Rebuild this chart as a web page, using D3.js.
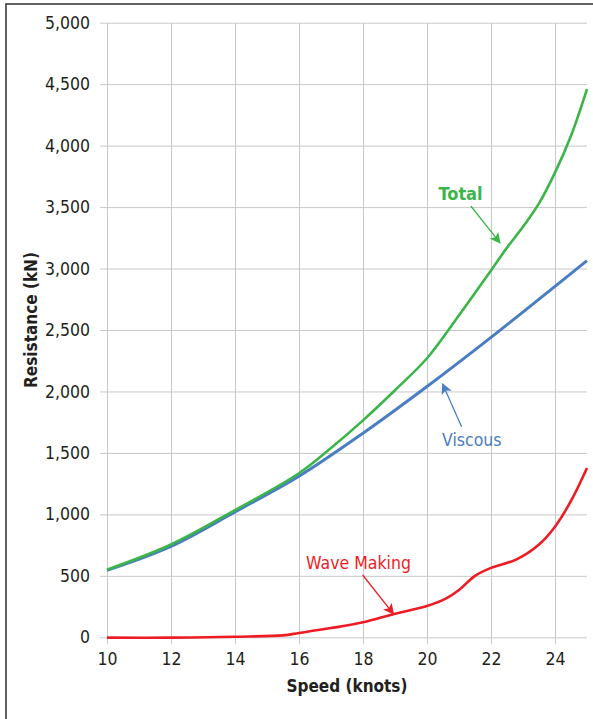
<!DOCTYPE html>
<html><head><meta charset="utf-8">
<script src="https://cdn.jsdelivr.net/npm/d3@7"></script>
<style>
html,body{margin:0;padding:0;background:#fff;}
svg text{font-family:"Liberation Sans Narrow","DejaVu Sans Condensed","Roboto Condensed","Open Sans",sans-serif;}
</style></head>
<body><svg id="c" width="593" height="719"></svg>
<script>
const xTicks = [10,12,14,16,18,20,22,24];
const yTicks = [0,500,1000,1500,2000,2500,3000,3500,4000,4500,5000];

const viscousSpeed = [10,12,14,16,18,20,22,24,25];
const viscous      = [545,740,1020,1310,1660,2040,2440,2855,3065];

const totalSpeed = [10,12,14,16,17,18,19,20,21,22,22.5,23,23.5,24,24.5,25];
const total      = [550,755,1035,1335,1540,1765,2010,2270,2620,2985,3170,3340,3530,3780,4080,4460];

const waveSpeed = [10,12,14,15.5,16,17,18,19,20,20.6,21,21.5,22,22.8,23.5,24,24.5,25];
const wave      = [-3,-3,5,16,35,75,122,192,255,317,385,500,565,634,755,900,1110,1378];

const seriesNames = ["Viscous","Total","Wave Making"];
const seriesColors = ["#4a7ec2","#3bb54a","#ed1c24"];
// annotation anchors in data units: label [speed,value], arrow start, arrow tip
const labelPos = [[20.47,1556],[21.05,3560],[17.86,555]];
const arrowFrom = [[21.08,1713],[21.37,3509],[17.99,507]];
const arrowTo   = [[20.49,2061],[22.28,3208],[18.95,190]];

const svg = d3.select("#c");
const M = {l:107, r:587, t:22.7, b:637.3};
const x = d3.scaleLinear().domain([10,25]).range([M.l,M.r]);
const y = d3.scaleLinear().domain([0,5000]).range([M.b,M.t]);

// frame
svg.append("rect").attr("x",6).attr("y",4).attr("width",700).attr("height",800)
  .attr("fill","none").attr("stroke","#3a3a3a").attr("stroke-width",1.6);

// horizontal grid + y ticks
const yAxis = d3.axisLeft(y).tickValues(yTicks).tickSize(7).tickPadding(10)
  .tickFormat(d3.format(","));
const gy = svg.append("g").attr("transform",`translate(${M.l},0)`).call(yAxis);
gy.select(".domain").remove();
gy.selectAll(".tick line").attr("stroke","#c8c8c8").attr("x1",0).attr("x2",-7);
gy.selectAll(".tick").append("line").attr("x1",0).attr("x2",M.r-M.l).attr("stroke","#c8c8c8");
gy.selectAll(".tick text").attr("fill","#231f20").style("font-size","17.5px");

const xAxis = d3.axisBottom(x).tickValues(xTicks).tickSize(7).tickPadding(8);
const gx = svg.append("g").attr("transform",`translate(0,${M.b})`).call(xAxis);
gx.select(".domain").remove();
gx.selectAll(".tick line").attr("stroke","#c8c8c8");
gx.selectAll(".tick").append("line").attr("y1",0).attr("y2",M.t-M.b).attr("stroke","#c8c8c8");
gx.selectAll(".tick text").attr("fill","#231f20").style("font-size","17.5px");

// axis titles
svg.append("text").attr("x",(M.l+M.r)/2).attr("y",692).attr("text-anchor","middle")
  .style("font-size","17px").style("font-weight","bold").attr("fill","#231f20").text("Speed (knots)");
svg.append("text").attr("transform",`translate(37,320) rotate(-90)`).attr("text-anchor","middle")
  .style("font-size","17px").style("font-weight","bold").attr("fill","#231f20").text("Resistance (kN)");

const line = d3.line().x(d=>x(d[0])).y(d=>y(d[1])).curve(d3.curveCatmullRom.alpha(0.5));
const series = [d3.zip(viscousSpeed,viscous), d3.zip(totalSpeed,total), d3.zip(waveSpeed,wave)];
const widths = [3,2.6,2.6];
series.forEach((s,i)=>{
  svg.append("path").datum(s).attr("d",line).attr("fill","none")
    .attr("stroke",seriesColors[i]).attr("stroke-width",widths[i]).attr("stroke-linejoin","round");
});

// markers
const defs = svg.append("defs");
seriesColors.forEach((c,i)=>{
  defs.append("marker").attr("id","ah"+i).attr("viewBox","0 0 10 10").attr("refX",9).attr("refY",5)
    .attr("markerWidth",12).attr("markerHeight",11).attr("markerUnits","userSpaceOnUse").attr("orient","auto")
    .append("path").attr("d","M0,0 L10,5 L0,10 L2.5,5 Z").attr("fill",c);
});

seriesNames.forEach((n,i)=>{
  svg.append("line").attr("x1",x(arrowFrom[i][0])).attr("y1",y(arrowFrom[i][1]))
    .attr("x2",x(arrowTo[i][0])).attr("y2",y(arrowTo[i][1]))
    .attr("stroke",seriesColors[i]).attr("stroke-width",1.3).attr("marker-end",`url(#ah${i})`);
  const t = svg.append("text").attr("x",x(labelPos[i][0])).attr("y",y(labelPos[i][1]))
    .attr("fill",seriesColors[i]).style("font-size","17.5px").text(n);
  if(i===0) t.attr("text-anchor","start");
  else t.attr("text-anchor","middle");
  if(i===1) t.style("font-weight","bold").style("font-size","18px");
});
</script></body></html>
